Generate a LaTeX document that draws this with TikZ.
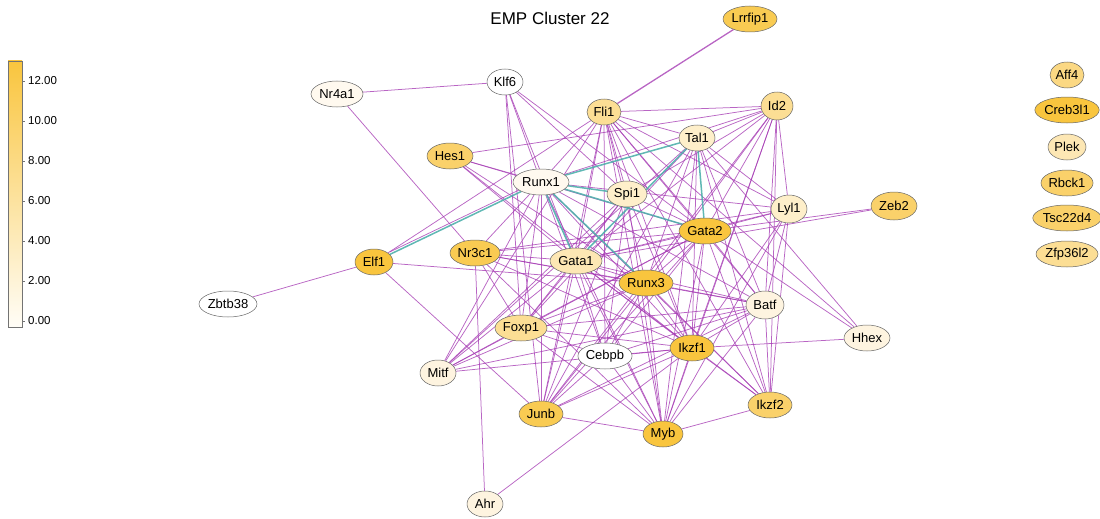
\documentclass[tikz,border=0pt]{standalone}
\usepackage{fontspec}
\setmainfont{Liberation Sans}
\usetikzlibrary{shapes.geometric}
\pgfdeclarelayer{bg}
\pgfsetlayers{bg,main}
\definecolor{oA}{HTML}{F9C53E}
\definecolor{oB}{HTML}{F9CB52}
\definecolor{oC}{HTML}{FAD16A}
\definecolor{oD}{HTML}{FBD883}
\definecolor{oE}{HTML}{FCDE94}
\definecolor{oF}{HTML}{FDE7B4}
\definecolor{oG}{HTML}{FEEFCA}
\definecolor{oH}{HTML}{FEF4E0}
\definecolor{oI}{HTML}{FFF9EF}
\definecolor{oW}{HTML}{FFFFFF}
\definecolor{edgep}{HTML}{A53AB3}
\definecolor{edget}{HTML}{4FB0AC}
\definecolor{cbtop}{HTML}{F9C53E}
\definecolor{cbbot}{HTML}{FFFDF7}
\tikzset{
  gene/.style={ellipse, draw=black!60, line width=0.5pt, inner sep=0pt,
    font=\fontsize{13}{15}\selectfont, text=black},
  pe/.style={draw=edgep, line width=0.75pt, opacity=0.78},
  te/.style={draw=edget, line width=1.5pt, opacity=0.9},
  ticklab/.style={anchor=west, font=\fontsize{11.5}{13}\selectfont, inner sep=0pt}
}
\begin{document}
\begin{tikzpicture}[x=1pt,y=-1pt]
\useasboundingbox (0,0) rectangle (1100,519);
\node[font=\fontsize{17}{20}\selectfont] (title) at (550,18) {EMP Cluster 22};
% colour bar
\shade[top color=cbtop, bottom color=cbbot] (8,61) rectangle (22,327);
\draw[black!55, line width=0.6pt] (8,61) rectangle (22,327);
\foreach \v/\yy in {12.00/81,10.00/121,8.00/161,6.00/201,4.00/241,2.00/281,0.00/321}{
  \draw[black!55, line width=0.6pt] (22,\yy) -- (25,\yy);
  \node[ticklab] (tk\yy) at (28,\yy) {\v};
}
% genes
\node[gene, fill=oB, minimum width=54, minimum height=26] (lrrfip1) at (750,19) {Lrrfip1};
\node[gene, fill=oD, minimum width=34, minimum height=26] (aff4) at (1067,75) {Aff4};
\node[gene, fill=oA, minimum width=62, minimum height=26] (creb3l1) at (1067,110) {Creb3l1};
\node[gene, fill=oF, minimum width=38, minimum height=26] (plek) at (1067,147) {Plek};
\node[gene, fill=oC, minimum width=50, minimum height=26] (rbck1) at (1067,183) {Rbck1};
\node[gene, fill=oC, minimum width=60, minimum height=26] (tsc22d4) at (1067,218) {Tsc22d4};
\node[gene, fill=oE, minimum width=62, minimum height=26] (zfp36l2) at (1067,254) {Zfp36l2};
\node[gene, fill=oI, minimum width=52, minimum height=26] (nr4a1) at (337,94) {Nr4a1};
\node[gene, fill=oW, minimum width=36, minimum height=26] (klf6) at (505,82) {Klf6};
\node[gene, fill=oE, minimum width=34, minimum height=26] (fli1) at (604,112) {Fli1};
\node[gene, fill=oE, minimum width=32, minimum height=28] (id2) at (777,106) {Id2};
\node[gene, fill=oG, minimum width=36, minimum height=26] (tal1) at (697,138) {Tal1};
\node[gene, fill=oC, minimum width=46, minimum height=26] (hes1) at (450,156) {Hes1};
\node[gene, fill=oI, minimum width=56, minimum height=26] (runx1) at (541,182) {Runx1};
\node[gene, fill=oG, minimum width=40, minimum height=26] (spi1) at (627,194) {Spi1};
\node[gene, fill=oG, minimum width=36, minimum height=28] (lyl1) at (789,209) {Lyl1};
\node[gene, fill=oC, minimum width=46, minimum height=28] (zeb2) at (894,206) {Zeb2};
\node[gene, fill=oA, minimum width=52, minimum height=26] (gata2) at (705,231) {Gata2};
\node[gene, fill=oA, minimum width=38, minimum height=26] (elf1) at (374,262) {Elf1};
\node[gene, fill=oB, minimum width=50, minimum height=26] (nr3c1) at (475,253) {Nr3c1};
\node[gene, fill=oF, minimum width=52, minimum height=26] (gata1) at (576,261) {Gata1};
\node[gene, fill=oA, minimum width=54, minimum height=26] (runx3) at (646,283) {Runx3};
\node[gene, fill=oW, minimum width=58, minimum height=26] (zbtb38) at (228,304) {Zbtb38};
\node[gene, fill=oH, minimum width=38, minimum height=28] (batf) at (765,305) {Batf};
\node[gene, fill=oE, minimum width=52, minimum height=26] (foxp1) at (521,328) {Foxp1};
\node[gene, fill=oW, minimum width=54, minimum height=26] (cebpb) at (605,356) {Cebpb};
\node[gene, fill=oA, minimum width=44, minimum height=26] (ikzf1) at (692,348) {Ikzf1};
\node[gene, fill=oH, minimum width=46, minimum height=26] (hhex) at (867,338) {Hhex};
\node[gene, fill=oH, minimum width=36, minimum height=26] (mitf) at (438,373) {Mitf};
\node[gene, fill=oB, minimum width=44, minimum height=26] (junb) at (541,414) {Junb};
\node[gene, fill=oA, minimum width=40, minimum height=26] (myb) at (663,434) {Myb};
\node[gene, fill=oC, minimum width=44, minimum height=26] (ikzf2) at (770,405) {Ikzf2};
\node[gene, fill=oH, minimum width=36, minimum height=26] (ahr) at (485,504) {Ahr};
\begin{pgfonlayer}{bg}
\foreach \a/\b in {nr4a1/klf6, nr4a1/nr3c1, zbtb38/elf1,
 elf1/fli1, elf1/runx3, elf1/junb,
 hes1/id2, hes1/runx1, hes1/gata2, hes1/runx3, hes1/ikzf1, hes1/gata1,
 klf6/runx1, klf6/spi1, klf6/gata2, klf6/junb, klf6/gata1, klf6/foxp1,
 fli1/tal1, fli1/gata2, fli1/runx3, fli1/gata1, fli1/ikzf1, fli1/myb, fli1/junb, fli1/spi1, fli1/runx1, fli1/lyl1, fli1/batf, fli1/mitf, fli1/cebpb, fli1/ikzf2, fli1/hhex, fli1/id2,
 id2/tal1, id2/runx1, id2/spi1, id2/gata1, id2/gata2, id2/runx3, id2/lyl1, id2/batf, id2/ikzf1, id2/ikzf2, id2/myb, id2/junb,
 tal1/lyl1, tal1/batf, tal1/ikzf1, tal1/myb, tal1/junb, tal1/runx3, tal1/mitf, tal1/ikzf2, tal1/foxp1, tal1/hhex,
 runx1/nr3c1, runx1/foxp1, runx1/cebpb, runx1/ikzf1, runx1/myb, runx1/junb, runx1/batf, runx1/lyl1, runx1/ikzf2, runx1/mitf,
 spi1/gata1, spi1/gata2, spi1/cebpb, spi1/junb, spi1/myb, spi1/ikzf1, spi1/mitf, spi1/foxp1,
 lyl1/gata2, lyl1/gata1, lyl1/ikzf2, lyl1/myb, lyl1/batf, lyl1/ikzf1, lyl1/nr3c1,
 gata2/zeb2, gata2/hhex, gata2/gata1, gata2/runx3, gata2/ikzf1, gata2/myb, gata2/junb, gata2/batf, gata2/ikzf2, gata2/foxp1, gata2/nr3c1, gata2/mitf, gata2/cebpb,
 gata1/zeb2, gata1/nr3c1, gata1/runx3, gata1/myb, gata1/ikzf1, gata1/batf, gata1/junb, gata1/foxp1, gata1/mitf, gata1/cebpb, gata1/ikzf2,
 nr3c1/runx3, nr3c1/foxp1, nr3c1/ahr, nr3c1/batf, nr3c1/ikzf1, nr3c1/myb,
 runx3/batf, runx3/ikzf1, runx3/ikzf2, runx3/myb, runx3/junb, runx3/foxp1, runx3/cebpb, runx3/mitf,
 batf/ikzf1, batf/junb, batf/myb, batf/ikzf2, batf/foxp1, batf/mitf, batf/cebpb,
 foxp1/mitf, foxp1/myb, foxp1/ikzf1, foxp1/cebpb,
 cebpb/myb, cebpb/junb, cebpb/ikzf1,
 ikzf1/hhex, ikzf1/ikzf2, ikzf1/myb, ikzf1/junb, ikzf1/mitf, ikzf1/ahr,
 myb/junb, myb/ikzf2}
  \draw[pe] (\a) -- (\b);
\draw[pe, line width=1.3pt] (lrrfip1) -- (fli1);
\draw[pe, transform canvas={yshift=2.5pt}] (elf1) -- (runx1);
\foreach \a/\b in {elf1/runx1, runx1/tal1, runx1/spi1, runx1/gata2, runx1/gata1, runx1/runx3, tal1/gata2, tal1/gata1}
  \draw[te] (\a) -- (\b);
\end{pgfonlayer}
\end{tikzpicture}
\end{document}
